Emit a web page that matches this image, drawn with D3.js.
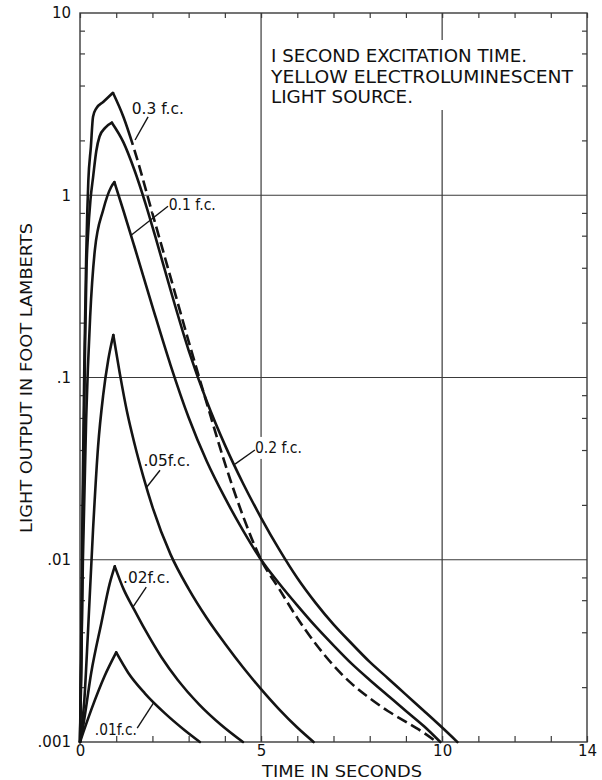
<!DOCTYPE html>
<html>
<head>
<meta charset="utf-8">
<script src="https://cdn.jsdelivr.net/npm/d3@7"></script>
<style>
  html, body { margin: 0; padding: 0; background: #fff; }
  svg { display: block; }
  text { font-family: "DejaVu Sans", "Liberation Sans", sans-serif; fill: #111; }
</style>
</head>
<body>
<svg id="chart" width="602" height="780"></svg>
<script>
// Light output (foot lamberts) against time (seconds) after a 1 s excitation,
// one series per excitation level in foot candles.
const fc030 = [[0,0.001],[0.03,0.003],[0.07,0.02],[0.12,0.12],[0.17,0.45],[0.2,0.8],[0.23,1.2],[0.3,1.84],[0.36,2.7],[0.45,3.0],[0.64,3.25],[0.91,3.65],
  [1.2,2.69],[1.5,1.78],[2.0,0.794],[2.5,0.355],[3.0,0.158],[3.5,0.0724],[4.0,0.0339],[4.5,0.0174],[5.0,0.01],[5.5,0.00692],[6.0,0.00479],[6.5,0.00347],[7.0,0.00263],[7.5,0.00209],[8.0,0.00174],[8.5,0.00148],[9.0,0.00129],[9.5,0.00112],[9.85,0.001]];
const fc020 = [[0,0.001],[0.04,0.003],[0.09,0.025],[0.14,0.15],[0.18,0.4],[0.22,0.6],[0.29,0.95],[0.36,1.25],[0.45,1.75],[0.54,2.1],[0.7,2.35],[0.88,2.5],
  [1.2,1.95],[1.5,1.38],[1.8,0.912],[2.1,0.575],[2.5,0.302],[3.0,0.141],[3.5,0.0741],[4.0,0.0427],[4.5,0.0263],[5.0,0.017],[5.5,0.0114],[6.0,0.00794],[6.5,0.00582],[7.0,0.00442],[7.5,0.00347],[8.0,0.00275],[8.5,0.00224],[9.0,0.00182],[9.5,0.00148],[10.0,0.0012],[10.42,0.001]];
const fc010 = [[0,0.001],[0.08,0.01],[0.17,0.059],[0.28,0.215],[0.41,0.5],[0.64,0.83],[0.86,1.11],[0.95,1.18],
  [1.2,0.822],[1.5,0.525],[2.0,0.245],[2.5,0.117],[3.0,0.0603],[3.5,0.0347],[4.0,0.0219],[4.5,0.0145],[5.0,0.01],[5.5,0.00741],[6.0,0.00562],[6.5,0.00432],[7.0,0.00339],[7.5,0.00269],[8.0,0.00219],[8.5,0.0018],[9.0,0.00148],[9.5,0.00122],[9.95,0.001]];
const fc005 = [[0,0.001],[0.12,0.0017],[0.22,0.004],[0.36,0.0146],[0.5,0.042],[0.64,0.08],[0.78,0.125],[0.92,0.171],
  [1.1,0.105],[1.3,0.0646],[1.5,0.0437],[1.75,0.0285],[2.0,0.0195],[2.5,0.0107],[3.0,0.00692],[3.5,0.00479],[4.0,0.00347],[4.5,0.00257],[5.0,0.00195],[5.5,0.00151],[6.0,0.0012],[6.45,0.001]];
const fc002 = [[0,0.001],[0.08,0.0012],[0.31,0.0024],[0.59,0.0045],[0.82,0.0074],[0.96,0.0092],
  [1.2,0.00692],[1.5,0.00531],[1.8,0.00412],[2.25,0.00292],[2.7,0.00219],[3.3,0.0016],[3.9,0.00124],[4.5,0.001]];
const fc001 = [[0,0.001],[0.31,0.0015],[0.68,0.0023],[1.0,0.0031],
  [1.33,0.0024],[1.79,0.00185],[2.34,0.00144],[2.89,0.00116],[3.31,0.001]];

// axis ticks and labels
const xTicks = d3.range(0, 15);
const xLabelValues = [0, 5, 10, 14];
const yMajor = [10, 1, 0.1, 0.01, 0.001];
const yMajorLabels = ["10", "1", ".1", ".01", ".001"];
const yDecades = [0.001, 0.01, 0.1, 1];
const yMinorSteps = [2, 4, 6, 8];
const gridTimes = [5, 10];
const gridLevels = [1, 0.1, 0.01];

const titleLines = ["I SECOND EXCITATION TIME.", "YELLOW ELECTROLUMINESCENT", "LIGHT SOURCE."];
const xTitle = "TIME IN SECONDS";
const yTitle = "LIGHT OUTPUT IN FOOT LAMBERTS";

// curve labels, placed in data units, with their leader lines
const curveLabels = [
  { text: "0.3 f.c.", at: [1.43, 3.0],     from: [1.88, 2.69],    to: [1.52, 2.01],     len: 52 },
  { text: "0.1 f.c.", at: [2.45, 0.9],     from: [2.43, 0.87],    to: [1.42, 0.605],    len: 47, knock: [16, 6, 7, 9] },
  { text: ".05f.c.",  at: [1.75, 0.0352],  from: [2.21, 0.031],   to: [1.84, 0.025],    len: 47 },
  { text: "0.2 f.c.", at: [4.83, 0.0416],  from: [4.83, 0.04],    to: [4.28, 0.0335],   len: 47, knock: [6, 4, 10, 12] },
  { text: ".02f.c.",  at: [1.19, 0.00804], from: [1.83, 0.00708], to: [1.46, 0.0055],   len: 47 },
  { text: ".01f.c.",  at: [0.41, 0.00118], from: [1.58, 0.00119], to: [2.04, 0.00165],  len: 42 }
];

const series = [
  { pts: fc030, dashFrom: 1.46 },
  { pts: fc020 },
  { pts: fc010 },
  { pts: fc005 },
  { pts: fc002 },
  { pts: fc001 }
];

const svg = d3.select("#chart");
const L = 80, R = 587, T = 13, B = 742;

const x = d3.scaleLinear().domain([0, 14]).range([L, R]);
const y = d3.scaleLog().domain([0.001, 10]).range([B, T]);

const ink = "#141414";
const gridInk = "#3a3a3a";

// grid
const grid = svg.append("g").attr("stroke", gridInk).attr("stroke-width", 1.2);
grid.selectAll(".gx").data(gridTimes).join("line")
  .attr("x1", d => x(d)).attr("x2", d => x(d)).attr("y1", T).attr("y2", B);
grid.selectAll(".gy").data(gridLevels).join("line")
  .attr("x1", L).attr("x2", R).attr("y1", d => y(d)).attr("y2", d => y(d));

// frame
svg.append("rect").attr("x", L).attr("y", T).attr("width", R - L).attr("height", B - T)
  .attr("fill", "none").attr("stroke", gridInk).attr("stroke-width", 1.4);

// inward ticks on all four sides
const yMinor = yDecades.flatMap(d => yMinorSteps.map(m => d * m));
function tidy(g) {
  g.select(".domain").remove();
  g.selectAll(".tick line").attr("stroke", gridInk).attr("stroke-width", 1.2);
}
svg.append("g").attr("transform", `translate(${L},0)`)
  .call(d3.axisLeft(y).tickValues(yMinor).tickSize(-5).tickFormat("")).call(tidy);
svg.append("g").attr("transform", `translate(${R},0)`)
  .call(d3.axisRight(y).tickValues(yMinor).tickSize(-5).tickFormat("")).call(tidy);
svg.append("g").attr("transform", `translate(0,${T})`)
  .call(d3.axisTop(x).tickValues(xTicks).tickSize(-5).tickFormat("")).call(tidy);
svg.append("g").attr("transform", `translate(0,${B})`)
  .call(d3.axisBottom(x).tickValues(xTicks).tickSize(-6).tickFormat("")).call(tidy);

// tick labels
const yLab = svg.append("g").attr("transform", `translate(${L},0)`)
  .call(d3.axisLeft(y).tickValues(yMajor).tickSize(0).tickPadding(9).tickFormat((d, i) => yMajorLabels[i]));
yLab.select(".domain").remove();
yLab.selectAll("text").attr("font-size", 15).attr("font-family", "DejaVu Sans").attr("fill", ink);

const xLab = svg.append("g").attr("transform", `translate(0,${B})`)
  .call(d3.axisBottom(x).tickValues(xLabelValues).tickSize(0).tickPadding(3));
xLab.select(".domain").remove();
xLab.selectAll("text").attr("font-size", 15).attr("font-family", "DejaVu Sans").attr("fill", ink);

// curves: rise and decay drawn as separate strokes so the peak stays sharp
const line = d3.line().x(d => x(d[0])).y(d => y(d[1])).curve(d3.curveMonotoneX);
const curves = svg.append("g").attr("fill", "none").attr("stroke", ink)
  .attr("stroke-width", 2.6).attr("stroke-linejoin", "round");

series.forEach(s => {
  const p = d3.maxIndex(s.pts, d => d[1]);
  curves.append("path").attr("d", line(s.pts.slice(0, p + 1))).attr("stroke-linecap", "round");
  const decay = curves.append("path").attr("d", line(s.pts.slice(p)));
  if (s.dashFrom == null) {
    decay.attr("stroke-linecap", "round");
    return;
  }
  // solid just after the peak, dashed from dashFrom onward
  const node = decay.node();
  const total = node.getTotalLength();
  const xs = x(s.dashFrom);
  let lo = 0, hi = total;
  for (let k = 0; k < 40; k++) {
    const mid = (lo + hi) / 2;
    if (node.getPointAtLength(mid).x < xs) lo = mid; else hi = mid;
  }
  const dash = 11, gap = 5;
  const parts = [lo];
  let acc = lo;
  while (acc < total) { parts.push(gap, dash); acc += gap + dash; }
  decay.attr("stroke-dasharray", parts.join(" ")).attr("stroke-linecap", "butt");
});

// curve labels with leaders
const ann = svg.append("g");
curveLabels.forEach(a => {
  const tx = x(a.at[0]), ty = y(a.at[1]);
  if (a.knock) {
    const [pl, pr, pt, pb] = a.knock;
    ann.append("rect").attr("x", tx - pl).attr("y", ty - pt)
      .attr("width", a.len + pl + pr).attr("height", pt + pb).attr("fill", "#fff");
  }
  ann.append("line")
    .attr("x1", x(a.from[0])).attr("y1", y(a.from[1]))
    .attr("x2", x(a.to[0])).attr("y2", y(a.to[1]))
    .attr("stroke", ink).attr("stroke-width", 1.4);
  ann.append("text").attr("x", tx).attr("y", ty + 6)
    .attr("font-size", 16).attr("textLength", a.len).attr("lengthAdjust", "spacingAndGlyphs")
    .text(a.text);
});

// title block
const titleX = 271, titleTop = 62, titleStep = 20.5;
const titleLens = [256, 302, 142];
svg.append("rect").attr("x", titleX - 6).attr("y", 40).attr("width", 312).attr("height", 70).attr("fill", "#fff");
svg.append("g").selectAll("text").data(titleLines).join("text")
  .attr("x", titleX).attr("y", (d, i) => titleTop + i * titleStep)
  .attr("font-size", 18).attr("textLength", (d, i) => titleLens[i]).attr("lengthAdjust", "spacingAndGlyphs")
  .text(d => d);

// axis titles
svg.append("text").attr("x", 262).attr("y", 777).attr("font-size", 16)
  .attr("textLength", 160).attr("lengthAdjust", "spacingAndGlyphs").text(xTitle);
svg.append("text").attr("transform", "translate(32,533) rotate(-90)").attr("font-size", 16)
  .attr("textLength", 310).attr("lengthAdjust", "spacingAndGlyphs").text(yTitle);
</script>
</body>
</html>
